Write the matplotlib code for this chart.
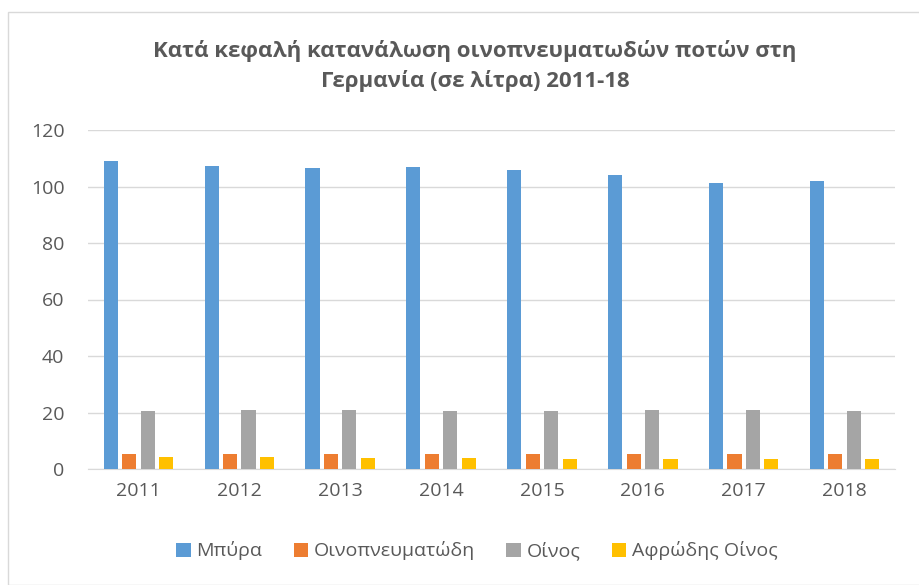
import matplotlib
matplotlib.use("Agg")
import matplotlib.pyplot as plt
import numpy as np
from matplotlib.patches import Rectangle

plt.rcParams['font.family'] = ['Open Sans', 'DejaVu Sans']

years = ['2011', '2012', '2013', '2014', '2015', '2016', '2017', '2018']
series_names = ['Μπύρα', 'Οινοπνευματώδη', 'Οίνος', 'Αφρώδης Οίνος']
beer = [109.2, 107.3, 106.6, 106.8, 105.9, 104.1, 101.3, 102.0]
spirits = [5.4, 5.4, 5.4, 5.3, 5.3, 5.3, 5.3, 5.3]
wine = [20.6, 20.8, 21.0, 20.6, 20.5, 21.0, 20.8, 20.5]
sparkling = [4.1, 4.1, 3.9, 3.8, 3.6, 3.6, 3.4, 3.4]
colors = ['#5B9BD5', '#ED7D31', '#A5A5A5', '#FFC000']
title = 'Κατά κεφαλή κατανάλωση οινοπνευματωδών ποτών στη\nΓερμανία (σε λίτρα) 2011-18'

fig = plt.figure(figsize=(9.19, 5.85), dpi=100)
fig.patches.append(Rectangle((8/919, 0.0), 1.0, 1 - 12/585, transform=fig.transFigure,
                             fill=False, edgecolor='#D9D9D9', linewidth=1.0))
ax = fig.add_axes([88/919, 1 - 469/585, (895 - 88)/919, (469 - 130)/585])

x = np.arange(len(years))
w = 0.14
step = 0.183
data = [beer, spirits, wine, sparkling]
for i, (vals, c, name) in enumerate(zip(data, colors, series_names)):
    ax.bar(x + (i - 1.5) * step, vals, width=w, color=c, label=name, zorder=3)

ax.set_ylim(0, 120)
ax.set_xlim(-0.5, len(years) - 0.5)
ax.set_yticks(range(0, 121, 20))
ax.set_xticks(x)
ax.set_xticklabels(years)
ax.grid(axis='y', color='#D9D9D9', linewidth=1, zorder=0)
for s in ['top', 'right', 'left']:
    ax.spines[s].set_visible(False)
ax.spines['bottom'].set_color('#D9D9D9')
ax.tick_params(axis='both', length=0, labelsize=14, colors='#595959')
ax.tick_params(axis='y', pad=17)
ax.tick_params(axis='x', pad=9)

fig.text(475/919, 1 - 66/585, title, ha='center', va='center', fontsize=16,
         fontweight='bold', color='#595959', linespacing=1.45)

ax.legend(loc='center', bbox_to_anchor=((477 - 88) / 807, (469 - 551) / (469 - 130)), ncol=4,
          frameon=False, fontsize=14, labelcolor='#595959', handlelength=0.75, handleheight=0.75,
          columnspacing=1.6, handletextpad=0.3)

fig.savefig('out.png', dpi=100)
